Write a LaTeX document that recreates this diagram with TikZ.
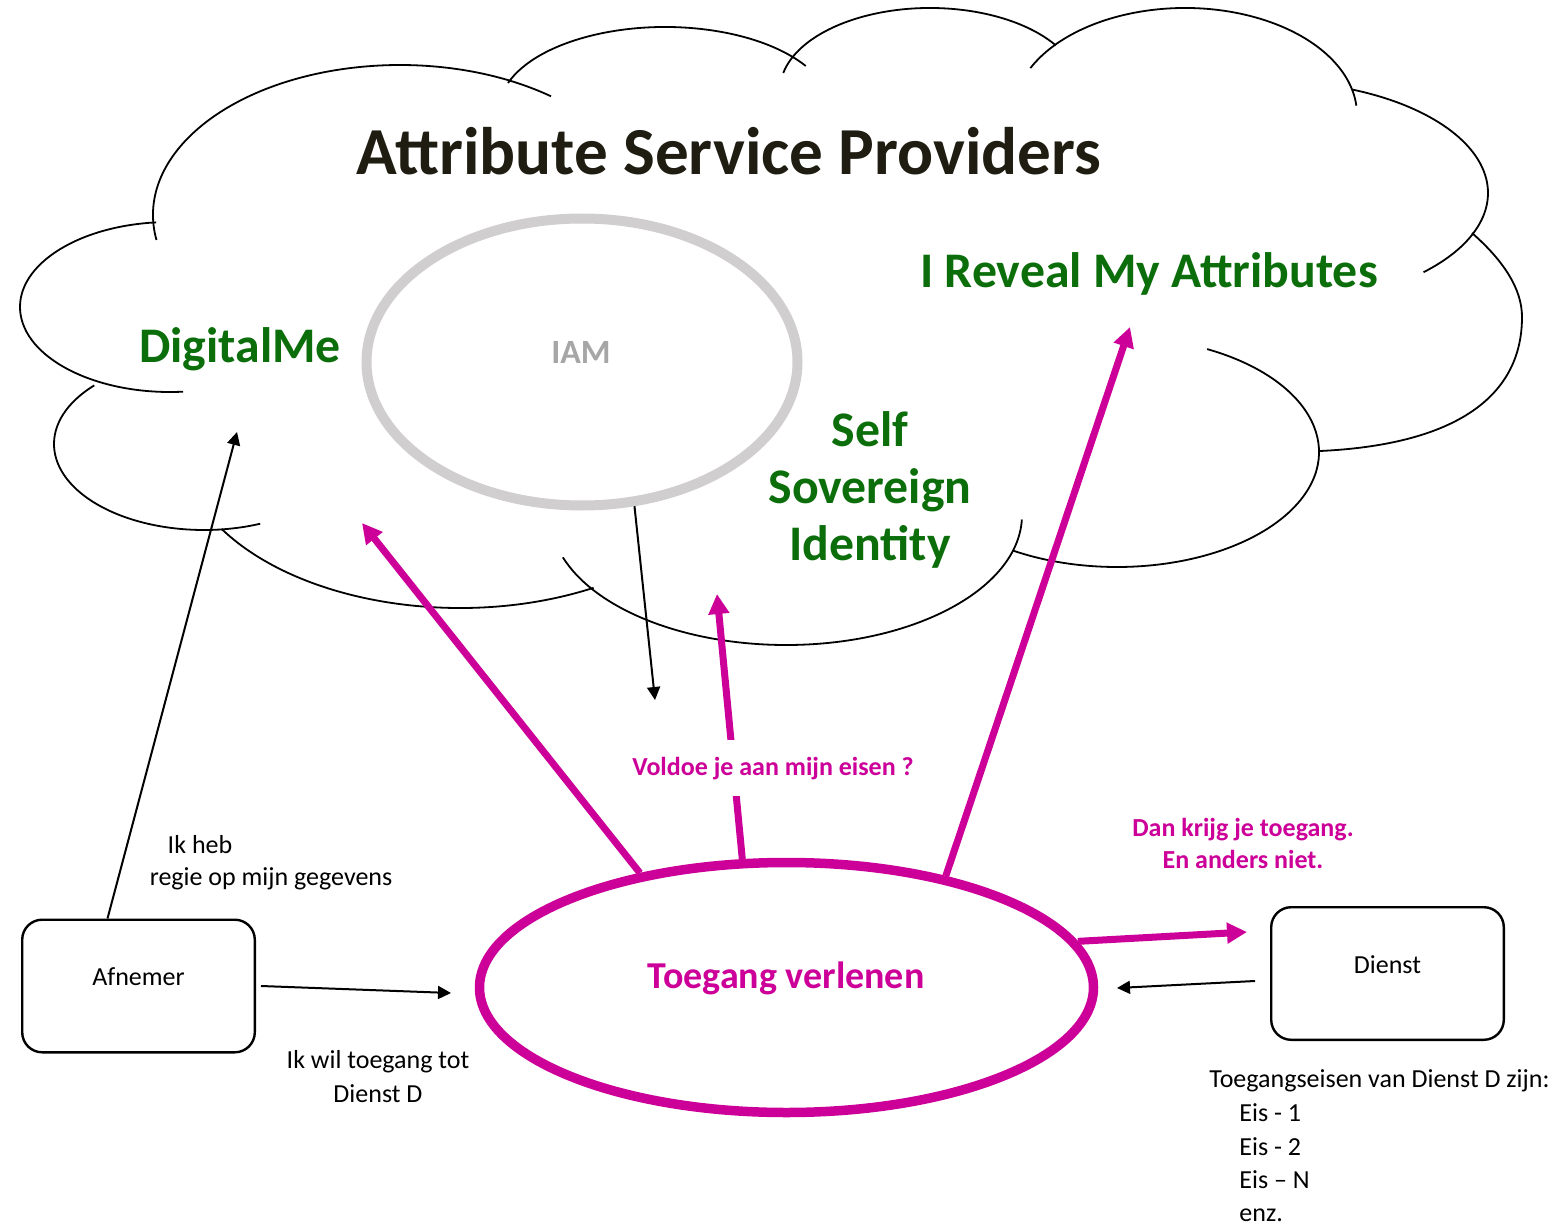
\documentclass[tikz,border=0pt]{standalone}
\usepackage{fontspec}
\setmainfont{Carlito}
\usetikzlibrary{shapes.geometric,arrows.meta}
\definecolor{mag}{HTML}{CC0099}
\definecolor{grn}{HTML}{0B6E0B}
\definecolor{iamgray}{HTML}{D0CECE}
\definecolor{iamtxt}{HTML}{A6A6A6}
\definecolor{ttl}{HTML}{1F1C12}
\newcommand\setfs[1]{\fontsize{#1}{#1}\selectfont}
% lobe: center x, center y, x radius, y radius, start angle, end angle
\newcommand\cloudlobe[6]{\draw[cloudline] (#1,#2) ++(#5:#3 and #4) arc[start angle=#5, end angle=#6, x radius=#3, y radius=#4];}
\begin{document}
\begin{tikzpicture}[x=0.5pt,y=-0.5pt,
  cloudline/.style={line width=0.9pt, black},
  txt/.style={anchor=base, inner sep=0pt},
  reg/.style={txt, font=\setfs{13pt}, black},
  magb/.style={txt, font=\setfs{13pt}\bfseries, mag},
  grnb/.style={txt, font=\setfs{24.9pt}\bfseries, grn},
  box/.style={draw, line width=1.2pt, rounded corners=10pt, minimum width=116.3pt, minimum height=66.3pt, inner sep=0pt},
  boxlbl/.style={font=\setfs{13pt}, black, inner sep=0pt, yshift=4.5pt},
  blkarrow/.style={line width=1pt, black, -{Triangle[length=6.5pt,width=6.5pt]}},
  magarrow/.style={line width=3.5pt, mag, -{Triangle[length=10pt,width=10pt]}}
]
\useasboundingbox (0,0) rectangle (1553,1225);

% cloud lobes (elliptic arcs)
\cloudlobe{400}{215}{247}{150}{170.4}{307.7}
\cloudlobe{665}{110}{166}{83}{199}{328}
\cloudlobe{930}{90}{150}{82}{192}{327}
\cloudlobe{1185}{115}{172}{107}{206}{355}
\cloudlobe{1268}{193}{220}{112}{292.7}{405}
\draw[cloudline] (1472,233) .. controls (1505,262) and (1522,290) .. (1522,317)
                           .. controls (1522,400) and (1450,445) .. (1320,451);
\cloudlobe{1117}{452}{202}{115}{-63.5}{121}
\cloudlobe{786}{515}{236}{130}{2}{161}
\cloudlobe{460}{440}{281}{168}{148}{61.6}
\cloudlobe{204}{444}{150}{86}{223}{68}
\cloudlobe{170}{307}{150}{85}{264.7}{85}

% texts in cloud
\node[txt, font=\setfs{33.6pt}\bfseries, ttl] (title) at (729,175) {Attribute Service Providers};
\node[grnb] (digitalme) at (240,363) {DigitalMe};
\node[grnb] (reveal) at (1149,288) {I Reveal My Attributes};
\node[grnb] (ssi1) at (870,446) {Self};
\node[grnb] (ssi2) at (870,503) {Sovereign};
\node[grnb] (ssi3) at (870,560) {Identity};

% IAM ellipse
\node[ellipse, draw=iamgray, line width=5pt, minimum width=215.5pt, minimum height=143.5pt, inner sep=0pt] (iam) at (582,362) {};
\node[txt, font=\setfs{17pt}\bfseries, iamtxt] (iamlbl) at (581,364) {IAM};

% Toegang ellipse
\node[ellipse, draw=mag, line width=4.75pt, minimum width=307pt, minimum height=125pt, inner sep=0pt] (toegang) at (786.5,987.5) {};
\node[txt, font=\setfs{19pt}\bfseries, mag] (toeglbl) at (786,988) {Toegang verlenen};

% boxes
\node[box, label={[boxlbl]center:Afnemer}] (afnemer) at (138.5,986) {};
\node[box, label={[boxlbl]center:Dienst}] (dienst) at (1387.5,973.5) {};

% free ends
\coordinate (dmend) at (237,432);
\coordinate (tvin) at (451,993);
\coordinate (tvin2) at (1117,988);
\coordinate (iamend) at (655,700);
\coordinate (dmend2) at (362,523);
\coordinate (ssiend) at (717,594);
\coordinate (revend) at (1130,327);
\coordinate (dienstin) at (1247,932);

% black arrows
\draw[blkarrow] ([xshift=-15.5pt]afnemer.north) -- (dmend);
\draw[blkarrow] ([xshift=2.5pt]afnemer.east) -- (tvin);
\draw[blkarrow] ([xshift=-7.5pt,yshift=-3.75pt]dienst.west) -- (tvin2);
\draw[blkarrow] (iam.-70) -- (iamend);

% magenta arrows
\draw[magarrow] (toegang.142) -- (dmend2);
\draw[magarrow] (toegang.109) -- (ssiend);
\draw[magarrow] (toegang.35) -- (revend);
\draw[magarrow] (toegang.9) -- (dienstin);

% labels
\node[magb, fill=white, inner xsep=2pt, inner ysep=8.5pt] (voldoe) at (773,775) {Voldoe je aan mijn eisen ?};
\node[reg] (ikheb1) at (200,853) {Ik heb};
\node[reg] (ikheb2) at (271,885) {regie op mijn gegevens};
\node[reg] (ikwil1) at (378,1068) {Ik wil toegang tot};
\node[reg] (ikwil2) at (378,1102) {Dienst D};
\node[magb] (dan1) at (1243,836) {Dan krijg je toegang.};
\node[magb] (dan2) at (1243,868) {En anders niet.};
\node[reg, anchor=base west] (eisen0) at (1209,1087) {Toegangseisen van Dienst D zijn:};
\node[reg, anchor=base west] (eisen1) at (1239,1121) {Eis - 1};
\node[reg, anchor=base west] (eisen2) at (1239,1155) {Eis - 2};
\node[reg, anchor=base west] (eisen3) at (1239,1188) {Eis – N};
\node[reg, anchor=base west] (eisen4) at (1239,1221) {enz.};
\end{tikzpicture}
\end{document}
